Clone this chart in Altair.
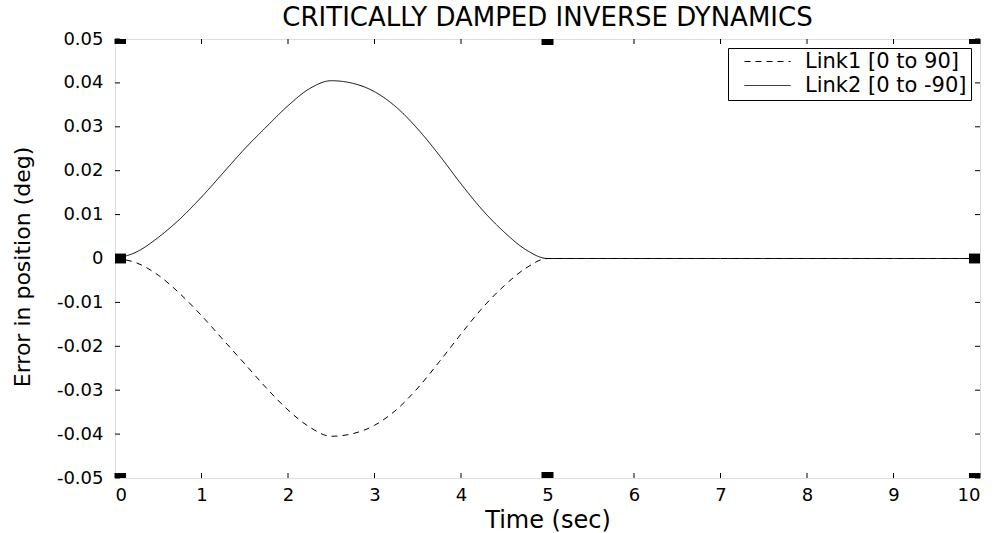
import altair as alt
import pandas as pd

time = [0, 0.25, 0.5, 0.75, 1.0, 1.25, 1.5, 1.75, 2.0, 2.25, 2.5, 2.75, 3.0,
        3.25, 3.5, 3.75, 4.0, 4.25, 4.5, 4.75, 5.0,
        5.5, 6.0, 6.5, 7.0, 7.5, 8.0, 8.5, 9.0, 9.5, 10.0]
link1 = [0, -0.0010, -0.0038, -0.0080, -0.0130, -0.0185, -0.0240, -0.0295,
         -0.0345, -0.0384, -0.0405, -0.0399, -0.0380, -0.0345, -0.0295,
         -0.0235, -0.0172, -0.0112, -0.0062, -0.0022, 0.0,
         0, 0, 0, 0, 0, 0, 0, 0, 0, 0]
link2 = [0, 0.0015, 0.0048, 0.0090, 0.0140, 0.0195, 0.0250, 0.0300,
         0.0348, 0.0387, 0.0405, 0.0399, 0.0380, 0.0345, 0.0295,
         0.0235, 0.0170, 0.0110, 0.0060, 0.0020, 0.0,
         0, 0, 0, 0, 0, 0, 0, 0, 0, 0]
series_names = ["Link1 [0 to 90]", "Link2 [0 to -90]"]

x_ticks = [0, 1, 2, 3, 4, 5, 6, 7, 8, 9, 10]
y_ticks = [-0.05, -0.04, -0.03, -0.02, -0.01, 0, 0.01, 0.02, 0.03, 0.04, 0.05]

edge_mark_x = [0, 10, 0, 10, 0, 10]
edge_mark_y = [0.05, 0.05, 0, 0, -0.05, -0.05]
mid_mark_x = [5, 5]
mid_mark_y = [0.05, -0.05]

W, H = 865, 439
FONT = "DejaVu Sans"

rows = []
for name, vals in ((series_names[0], link1), (series_names[1], link2)):
    for t, v in zip(time, vals):
        rows.append({"t": t, "v": v, "series": name, "order": 0 if name == series_names[1] else 1})
df = pd.DataFrame(rows)

xs = alt.Scale(domain=[0, 10], nice=False, zero=False)
ys = alt.Scale(domain=[-0.05, 0.05], nice=False, zero=False)

lines = alt.Chart(df).mark_line(color="black", strokeWidth=1, interpolate="monotone").encode(
    x=alt.X("t:Q", scale=xs,
            axis=alt.Axis(values=x_ticks, format="d", title="Time (sec)", ticks=False, tickSize=0,
                          domain=False, grid=False, labelPadding=8, labelFont=FONT,
                          labelFontSize=18, labelColor="black", titleFont=FONT,
                          titleFontSize=24, titleFontWeight="normal", titleColor="black",
                          titleY=49, titleBaseline="alphabetic")),
    y=alt.Y("v:Q", scale=ys,
            axis=alt.Axis(values=y_ticks, title="Error in position (deg)", ticks=False,
                          tickSize=0, domain=False, grid=False, labelPadding=12,
                          labelFont=FONT, labelFontSize=18, labelColor="black",
                          labelExpr="abs(datum.value) < 1e-9 ? '0' : (datum.value < 0 ? '-' + format(-datum.value, '.2f') : format(datum.value, '.2f'))",
                          titleFont=FONT, titleFontSize=22, titleFontWeight="normal",
                          titleColor="black", titleX=-86, titleY=H / 2 + 8,
                          titleBaseline="alphabetic", titleAngle=-90, titleAlign="center")),
    strokeDash=alt.StrokeDash("series:N",
                              scale=alt.Scale(domain=series_names, range=[[6, 5], [1, 0]]),
                              legend=alt.Legend(title=None, orient="top-right", offset=9,
                                                padding=4, symbolOffset=12,
                                                strokeColor="black", fillColor="white",
                                                labelFont=FONT, labelFontSize=21,
                                                labelColor="black", labelLimit=400,
                                                symbolType="stroke",
                                                symbolSize=2116, symbolStrokeColor="black",
                                                symbolStrokeWidth=1, labelOffset=14,
                                                clipHeight=19, rowPadding=2, cornerRadius=0)),
    detail="series:N",
    order=alt.Order("order:Q"),
)

xt = pd.DataFrame({"t": x_ticks})
yt = pd.DataFrame({"v": y_ticks})
tick_top = alt.Chart(xt).mark_rule(color="black", strokeWidth=1).encode(
    x=alt.X("t:Q", scale=xs), y=alt.value(0), y2=alt.value(5))
tick_bot = alt.Chart(xt).mark_rule(color="black", strokeWidth=1).encode(
    x=alt.X("t:Q", scale=xs), y=alt.value(H), y2=alt.value(H - 5))
tick_left = alt.Chart(yt).mark_rule(color="black", strokeWidth=1).encode(
    y=alt.Y("v:Q", scale=ys), x=alt.value(0), x2=alt.value(5))
tick_right = alt.Chart(yt).mark_rule(color="black", strokeWidth=1).encode(
    y=alt.Y("v:Q", scale=ys), x=alt.value(W), x2=alt.value(W - 5))

edge_df = pd.DataFrame({"t": edge_mark_x, "v": edge_mark_y})
mid_df = pd.DataFrame({"t": mid_mark_x, "v": mid_mark_y})
edge_marks = alt.Chart(edge_df).mark_point(
    shape="M-1,-0.45H1V0.45H-1Z", filled=True, color="black", opacity=1, size=484,
    clip=True, strokeWidth=0).encode(x=alt.X("t:Q", scale=xs), y=alt.Y("v:Q", scale=ys))
mid_marks = alt.Chart(mid_df).mark_point(
    shape="square", filled=True, color="black", opacity=1, size=144,
    clip=True, strokeWidth=0).encode(x=alt.X("t:Q", scale=xs), y=alt.Y("v:Q", scale=ys))

chart = alt.layer(lines, tick_top, tick_bot, tick_left, tick_right, edge_marks, mid_marks).properties(
    width=W, height=H,
    padding={"left": 115, "top": 39, "right": 15, "bottom": 55},
    autosize=alt.AutoSizeParams(type="none"),
    title=alt.TitleParams("CRITICALLY DAMPED INVERSE DYNAMICS", font=FONT, fontSize=26,
                          fontWeight="normal", color="black", anchor="middle",
                          offset=13, dy=14),
).configure_view(stroke="black", strokeWidth=1).configure(background="white")

chart.save("out.html", embed_options={"renderer": "svg", "actions": False})
